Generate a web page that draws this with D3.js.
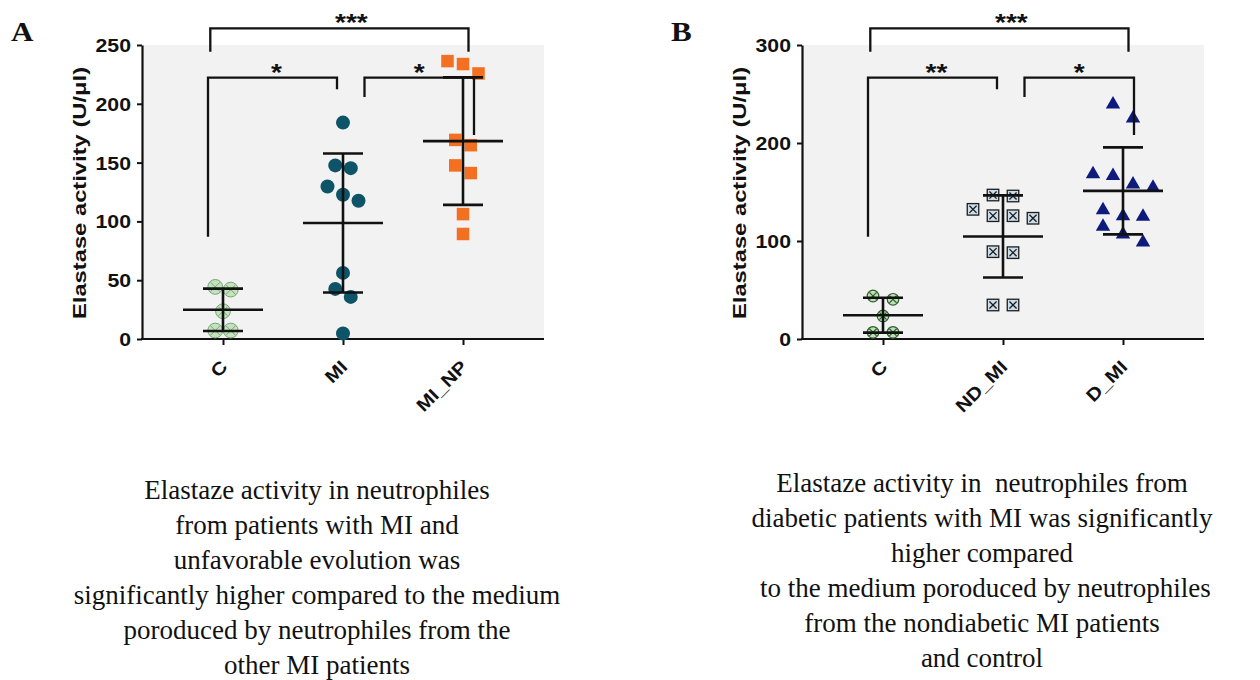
<!DOCTYPE html>
<html><head><meta charset="utf-8">
<script src="https://cdn.jsdelivr.net/npm/d3@7"></script>
<style>body{margin:0;background:#fff} svg{display:block}</style>
</head><body><svg id="chart" width="1260" height="680"></svg>
<script>
// ---------- DATA ----------
// Panel A
const catsA = ["C", "MI", "MI_NP"];
const valsA_C = [42, 44.3, 23.6, 7.2, 7.2];
const valsA_MI = [184, 145.3, 147.6, 129.7, 122.7, 117.6, 56.2, 42.6, 35.8, 4.7];
const valsA_MINP = [236.3, 233.8, 225.8, 169.3, 164.8, 147.6, 141.1, 106.2, 89.3];
const ticksA = [0, 50, 100, 150, 200, 250];
const sigA = [["C", "MI_NP", "***"], ["C", "MI", "*"], ["MI", "MI_NP", "*"]];
const captionA = [
  "Elastaze activity in neutrophiles",
  "from patients with MI and",
  "unfavorable evolution was",
  "significantly higher compared to the medium",
  "poroduced by neutrophiles from the",
  "other MI patients"
];
// Panel B
const catsB = ["C", "ND_MI", "D_MI"];
const valsB_C = [43.9, 40.5, 23.5, 6.8, 6.8];
const valsB_NDMI = [146.9, 145.9, 132.3, 125.8, 123.2, 125.8, 89.1, 88.1, 34.7, 34.7];
const valsB_DMI = [239.5, 225.2, 168.4, 166.6, 157.9, 154.4, 131.6, 125.5, 124.8, 114.6, 106.8, 98.7];
const ticksB = [0, 100, 200, 300];
const sigB = [["C", "D_MI", "***"], ["C", "ND_MI", "**"], ["ND_MI", "D_MI", "*"]];
const captionB = [
  "Elastaze activity in  neutrophiles from",
  "diabetic patients with MI was significantly",
  "higher compared",
  " to the medium poroduced by neutrophiles",
  "from the nondiabetic MI patients",
  "and control"
];
const yLabel = "Elastase activity (U/\u03BCl)";

// ---------- DRAWING ----------
const svg = d3.select('#chart');
const SANS = "'Liberation Sans', Arial, Helvetica, sans-serif";
const SERIF = "'Liberation Serif', 'Times New Roman', serif";
const INK = '#111';

function stretch(sel, k) {
  sel.each(function () {
    const w = this.getComputedTextLength();
    d3.select(this).attr('textLength', w * k).attr('lengthAdjust', 'spacingAndGlyphs');
  });
}

function swarm(vals, y, step, thr) {
  const pts = vals.map(v => ({ v, py: y(v) })).sort((a, b) => a.v - b.v);
  const rows = []; let cur = null;
  for (const p of pts) {
    if (!cur || Math.abs(p.py - cur[0].py) > thr) { cur = [p]; rows.push(cur); }
    else cur.push(p);
  }
  rows.forEach(r => {
    r.sort((a, b) => b.v - a.v);
    r.forEach((p, k) => p.dx = (k - (r.length - 1) / 2) * step);
  });
  return pts;
}

function drawMarker(g, type, st) {
  if (type === 'circleX') {
    g.append('circle').attr('r', st.r).attr('fill', st.fill).attr('stroke', st.stroke).attr('stroke-width', st.sw);
    const a = st.r * 0.62;
    g.append('path').attr('d', `M${-a},${-a}L${a},${a}M${-a},${a}L${a},${-a}`)
      .attr('stroke', st.stroke).attr('stroke-width', st.sw);
  } else if (type === 'circle') {
    g.append('circle').attr('r', st.r).attr('fill', st.fill);
  } else if (type === 'square') {
    g.append('rect').attr('x', -st.s / 2).attr('y', -st.s / 2).attr('width', st.s).attr('height', st.s).attr('fill', st.fill);
  } else if (type === 'squareX') {
    const h = st.s / 2;
    g.append('rect').attr('x', -h).attr('y', -h).attr('width', st.s).attr('height', st.s)
      .attr('fill', st.fill).attr('stroke', st.stroke).attr('stroke-width', st.sw);
    const a = h * 0.62;
    g.append('path').attr('d', `M${-a},${-a}L${a},${a}M${-a},${a}L${a},${-a}`)
      .attr('stroke', st.stroke).attr('stroke-width', st.sw);
  } else if (type === 'triangle') {
    g.append('path').attr('d', d3.symbol(d3.symbolTriangle, st.area)()).attr('fill', st.fill);
  }
}

function drawPanel(cfg) {
  const g = svg.append('g').attr('transform', `translate(${cfg.dx},0)`);
  const left = 142, right = 544, top = 45, bottom = 339;
  const x = d3.scalePoint().domain(cfg.cats).range([left, right]).padding(0.675);
  const y = d3.scaleLinear().domain([0, cfg.ymax]).range([bottom, top]);

  g.append('rect').attr('x', left).attr('y', top).attr('width', right - left).attr('height', bottom - top).attr('fill', '#f2f2f2');

  // y axis
  const ya = g.append('g').attr('transform', `translate(${left},0)`)
    .call(d3.axisLeft(y).tickValues(cfg.ticks).tickSize(5).tickSizeOuter(0).tickPadding(6));
  ya.select('.domain').attr('stroke', INK).attr('stroke-width', 2.2);
  ya.selectAll('.tick line').attr('stroke', INK).attr('stroke-width', 2);
  ya.selectAll('.tick text').attr('font-family', SANS).attr('font-size', 18).attr('font-weight', 'bold').attr('fill', INK)
    .attr('dy', '0.36em')
    .call(stretch, 1.18);

  // x axis
  const xa = g.append('g').attr('transform', `translate(0,${bottom})`)
    .call(d3.axisBottom(x).tickSize(6).tickSizeOuter(0));
  xa.select('.domain').attr('stroke', INK).attr('stroke-width', 2.2).attr('d', `M${left - 1},0H${right}`);
  xa.selectAll('.tick line').attr('stroke', INK).attr('stroke-width', 2);
  xa.selectAll('.tick text').attr('font-family', SANS).attr('font-size', 18).attr('font-weight', 'bold').attr('fill', INK)
    .attr('x', 0).attr('y', 0).attr('dy', 0)
    .attr('transform', 'translate(5,29) rotate(-45)').style('text-anchor', 'end')
    .call(stretch, 1.15);

  // y label
  g.append('text').attr('transform', `translate(86,193) rotate(-90)`).attr('text-anchor', 'middle')
    .attr('font-family', SANS).attr('font-size', 19).attr('font-weight', 'bold').attr('fill', INK)
    .text(yLabel).call(stretch, 1.25);

  // panel letter
  g.append('text').attr('x', 11).attr('y', 41).attr('font-family', SERIF).attr('font-size', 27)
    .attr('font-weight', 'bold').attr('fill', INK).text(cfg.letter).call(stretch, 1.15);

  // points
  cfg.groups.forEach((vals, gi) => {
    const pts = swarm(vals, y, cfg.step, cfg.thr);
    const cx = x(cfg.cats[gi]);
    pts.forEach(p => {
      const m = g.append('g').attr('transform', `translate(${cx + p.dx},${p.py})`);
      drawMarker(m, cfg.markers[gi], cfg.styles[gi]);
    });
  });

  // mean ± SD
  cfg.groups.forEach((vals, gi) => {
    const cx = x(cfg.cats[gi]);
    const m = d3.mean(vals), sd = d3.deviation(vals);
    const eg = g.append('g').attr('stroke', INK).attr('stroke-width', 2.6).attr('fill', 'none');
    eg.append('line').attr('x1', cx).attr('x2', cx).attr('y1', y(m + sd)).attr('y2', y(m - sd));
    eg.append('line').attr('x1', cx - 40).attr('x2', cx + 40).attr('y1', y(m)).attr('y2', y(m));
    [m + sd, m - sd].forEach(v => eg.append('line').attr('x1', cx - 20).attr('x2', cx + 20).attr('y1', y(v)).attr('y2', y(v)));
  });

  // significance brackets
  const layout = [
    { o1: -12.7, o2: 5.5, yl: 28.3, l1: 51.7, l2: 51.7, lx: 12 },
    { o1: -15, o2: -6, yl: 77.7, l1: 236.7, l2: 89.3, lx: 4 },
    { o1: 21.5, o2: 11, yl: 77.7, l1: 97, l2: 135, lx: 0 }
  ];
  cfg.sig.forEach((s, i) => {
    const L = layout[i];
    const x1 = x(s[0]) + L.o1, x2 = x(s[1]) + L.o2;
    g.append('path').attr('d', `M${x1},${L.l1}V${L.yl}H${x2}V${L.l2}`)
      .attr('fill', 'none').attr('stroke', INK).attr('stroke-width', 2.3);
    g.append('text').attr('x', (x1 + x2) / 2 + L.lx).attr('y', L.yl + 3).attr('text-anchor', 'middle')
      .attr('font-family', SANS).attr('font-size', 23).attr('font-weight', 'bold').attr('fill', INK)
      .text(s[2]).call(stretch, 1.22);
  });

  // caption
  const cap = svg.append('text').attr('font-family', SERIF).attr('font-size', 27).attr('fill', INK)
    .attr('text-anchor', 'middle').style('white-space', 'pre');
  cfg.caption.forEach((line, i) => {
    cap.append('tspan').attr('x', cfg.capX).attr('y', cfg.capY + i * 35).text(line);
  });
}

drawPanel({
  dx: 0, letter: 'A', cats: catsA, ymax: 250, ticks: ticksA, sig: sigA,
  groups: [valsA_C, valsA_MI, valsA_MINP],
  markers: ['circleX', 'circle', 'square'],
  styles: [
    { r: 7.4, fill: '#c4e3bd', stroke: '#77a477', sw: 1 },
    { r: 7, fill: '#0e5468' },
    { s: 12.5, fill: '#f36f21' }
  ],
  step: 15.5, thr: 15, caption: captionA, capX: 317, capY: 499
});
drawPanel({
  dx: 660, letter: 'B', cats: catsB, ymax: 300, ticks: ticksB, sig: sigB,
  groups: [valsB_C, valsB_NDMI, valsB_DMI],
  markers: ['circleX', 'squareX', 'triangle'],
  styles: [
    { r: 5.8, fill: '#bfe0b6', stroke: '#2e5e2e', sw: 1.2 },
    { s: 11.5, fill: '#cbdcea', stroke: '#1d1d1d', sw: 1.3 },
    { area: 90, fill: '#0f1a7d' }
  ],
  step: 20, thr: 16, caption: captionB, capX: 982, capY: 492
});
</script>
</body></html>
